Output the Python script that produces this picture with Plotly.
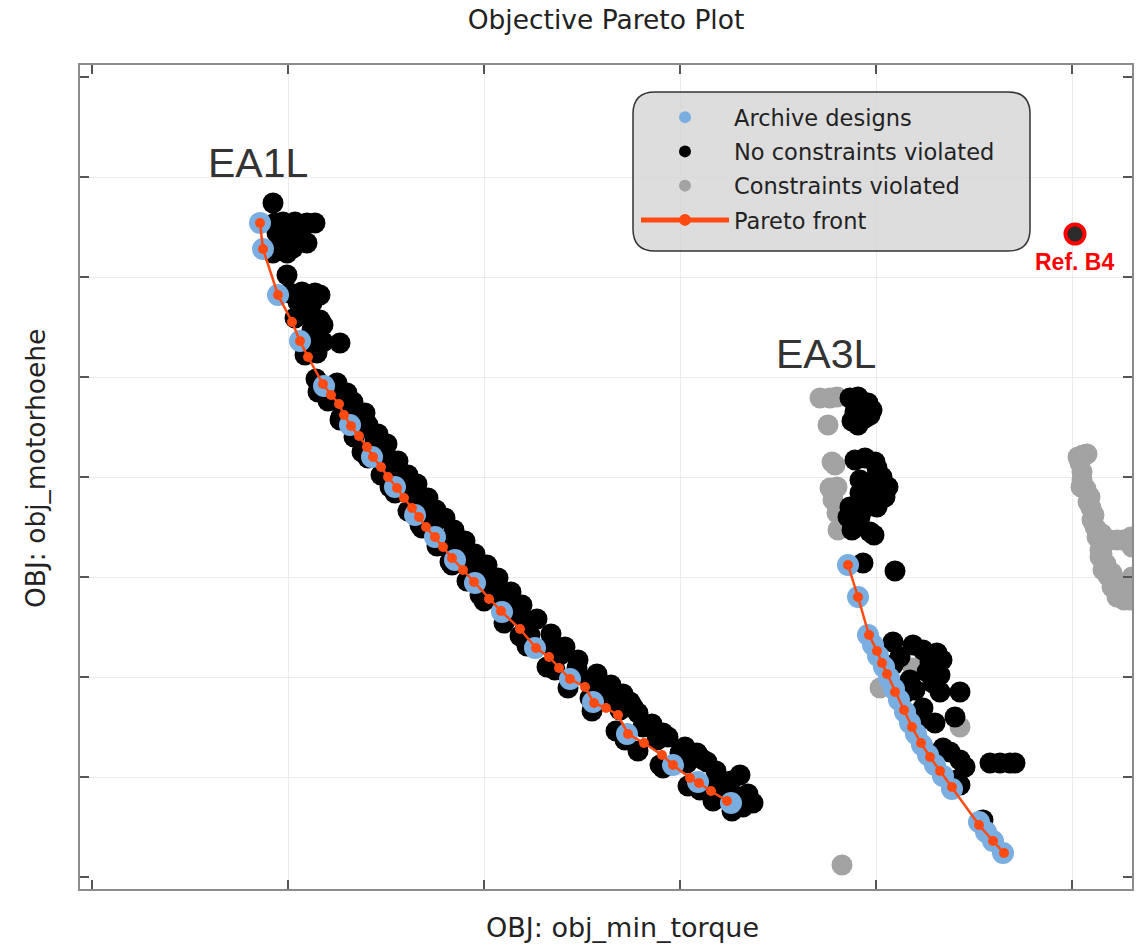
import plotly.graph_objects as go

# ---------------- data (objective space, arbitrary units) ----------------
# EA1L family: Pareto front
ea1l_front_x = [16.8, 17.1, 18.6, 20.0, 20.8, 21.6, 23.1, 23.9, 24.7, 25.2, 25.9, 26.7, 27.5, 28.1,
                28.9, 29.6, 30.5, 31.2, 32.0, 32.7, 33.4, 34.3, 35.1, 36.0, 37.1, 38.2, 39.7, 40.9,
                42.8, 44.4, 45.7, 46.7, 47.8, 49.3, 50.2, 51.4, 52.6, 53.6, 55.2, 57.0, 58.1, 59.8,
                60.7, 61.9, 63.5]
ea1l_front_y = [65.4, 62.8, 58.2, 55.5, 53.6, 52.0, 49.3, 48.2, 47.3, 46.2, 45.1, 44.1, 43.0, 42.0,
                41.0, 40.0, 38.9, 37.9, 36.9, 36.0, 35.0, 34.0, 33.0, 31.9, 30.7, 29.5, 27.8, 26.6,
                24.8, 22.9, 22.0, 20.9, 19.8, 19.0, 17.4, 16.9, 16.2, 14.3, 13.4, 12.2, 11.2, 9.9,
                9.4, 8.6, 7.6]

# EA3L family: Pareto front
ea3l_front_x = [75.6, 76.6, 77.7, 78.5, 79.0, 79.5, 80.3, 81.2, 82.0, 82.9, 83.8, 84.8, 86.0,
                88.7, 90.1, 91.2]
ea3l_front_y = [31.2, 28.0, 24.2, 22.6, 21.4, 20.3, 18.5, 16.7, 15.0, 13.4, 12.0, 10.6, 9.0,
                5.2, 3.6, 2.4]

# Archive designs
archive_x = [16.8, 17.1, 18.6, 20.8, 23.2, 25.8, 28.0, 30.3, 32.3, 34.3, 36.3, 38.3, 41.0, 44.3,
             47.8, 50.1, 53.5, 58.1, 60.6, 63.9,
             75.6, 76.6, 77.6, 78.1, 78.6, 79.2, 79.7, 80.2, 80.7, 81.3, 81.8, 82.4, 83.0, 83.6,
             84.3, 85.1, 86.0, 88.7, 89.4, 90.1, 91.1]
archive_y = [65.4, 62.8, 58.2, 53.6, 49.1, 45.2, 42.0, 39.0, 36.2, 34.0, 31.7, 29.4, 26.5, 22.9,
             19.8, 17.5, 14.3, 11.2, 9.5, 7.4,
             31.2, 28.0, 24.2, 23.2, 22.1, 21.0, 19.9, 18.8, 17.7, 16.5, 15.4, 14.3, 13.2, 12.2,
             11.2, 10.1, 8.8, 5.5, 4.5, 3.6, 2.4]

# Feasible designs (no constraints violated)
feasible_x = [
    # EA1L, upper part
    18.1, 18.3, 19.1, 20.3, 21.5, 22.3, 18.5, 19.8, 21.1, 18.8, 20.1, 21.5, 18.1, 19.5, 19.5,
    19.8, 21.0, 22.3, 22.8, 20.6, 22.0, 20.3, 21.6, 22.8, 23.1, 22.0, 21.1, 23.1, 24.8, 21.3, 22.5,
    # EA1L, along the front
    23.6, 25.5, 24.1, 25.3, 27.0, 27.6, 26.4, 28.3, 28.8, 29.6, 30.0, 30.8, 31.3, 32.1, 33.0, 33.4,
    34.1, 34.8, 35.6, 36.5, 37.1, 37.6, 38.8, 39.4, 40.8, 41.5, 42.3, 43.3, 43.8, 45.8, 46.8, 48.5,
    49.8, 50.8, 52.1, 53.8, 54.1, 52.8, 55.1, 57.1, 56.5, 58.8, 60.5, 61.5, 59.5, 64.8, 62.5, 63.0,
    64.5, 66.1, 65.1,
    22.6, 24.8, 27.0, 29.8, 32.8, 35.8, 38.8, 42.8, 46.3, 49.8, 53.3, 56.8, 60.8,
    24.5, 26.1, 27.3, 28.6, 29.5, 30.6, 31.6, 32.5, 33.6, 34.4, 35.3, 36.2, 37.3, 38.3, 39.5,
    40.6, 41.9, 43.0, 44.5, 45.9, 47.3, 48.6, 50.5, 51.9, 53.1, 54.6, 56.0, 57.6, 59.3, 61.0,
    62.4, 63.9, 65.6,
    22.4, 23.6, 24.9, 26.2, 27.6, 28.9, 30.3, 31.6, 33.0, 34.5, 36.0, 37.5, 39.2, 41.2, 43.5,
    45.5, 47.6, 50.0, 52.4, 54.6, 57.1, 59.6, 62.1, 64.0,
    # EA3L, upper clusters
    75.8, 76.6, 77.6, 78.0, 76.3, 76.6, 77.3, 76.9, 77.8, 76.0,
    76.3, 77.3, 78.3, 78.5, 76.8, 78.0, 79.1, 76.8, 77.8, 79.3, 75.8, 77.3, 78.5, 75.6, 76.8,
    76.0, 77.8, 77.1, 80.3, 79.0, 79.6, 78.0, 76.5, 78.2,
    # EA3L, along the front
    80.1, 82.1, 83.1, 84.5, 85.0, 83.8, 80.8, 80.1, 83.5, 84.8, 81.8, 84.1, 84.8, 86.8, 82.3,
    81.3, 83.1, 86.3, 84.3, 82.8, 85.1, 85.8, 86.8, 87.3, 86.5, 86.8, 89.8, 90.8, 91.8, 92.3,
    89.1,
]
feasible_y = [
    # EA1L, upper part
    67.4, 65.4, 65.5, 65.5, 65.4, 65.4, 64.4, 64.2, 63.7, 63.0, 62.9, 63.4, 62.4, 62.4, 60.2,
    58.4, 58.5, 58.4, 58.2, 57.5, 57.4, 55.9, 56.2, 55.7, 55.2, 54.7, 53.4, 53.5, 53.4, 52.2, 52.4,
    # EA1L, along the front
    49.0, 48.4, 47.7, 46.9, 46.0, 45.2, 44.5, 43.7, 42.7, 41.9, 40.7, 39.7, 38.7, 37.7, 36.5, 35.7,
    35.0, 33.7, 32.9, 32.9, 32.0, 31.2, 30.0, 28.9, 28.0, 27.4, 26.2, 25.4, 24.2, 23.2, 22.2, 20.9,
    19.7, 18.7, 17.7, 17.5, 17.0, 16.7, 15.0, 14.4, 13.7, 12.4, 12.4, 11.5, 11.4, 10.2, 9.7, 8.7,
    8.0, 7.4, 7.0,
    48.5, 45.7, 42.5, 39.0, 35.2, 31.5, 28.2, 24.1, 20.7, 17.9, 13.7, 11.2, 8.7,
    49.4, 47.5, 46.4, 44.3, 43.3, 41.6, 40.2, 39.3, 37.9, 36.7, 35.9, 34.7, 33.6, 32.3, 31.2,
    29.9, 28.5, 27.2, 25.8, 24.3, 23.0, 21.7, 20.3, 19.2, 18.3, 16.4, 15.3, 14.0, 13.0, 11.8,
    10.6, 9.6, 8.3,
    49.8, 47.6, 46.0, 44.0, 41.9, 40.2, 38.4, 36.6, 34.9, 33.1, 31.2, 29.6, 27.6, 25.4, 23.1,
    21.0, 18.9, 16.6, 14.6, 12.6, 10.9, 9.1, 7.6, 6.6,
    # EA3L, upper clusters
    47.9, 48.0, 47.4, 46.7, 46.5, 45.2, 45.9, 47.0, 46.2, 45.6,
    41.7, 41.9, 41.5, 40.9, 39.7, 39.5, 38.9, 38.4, 38.2, 38.0, 37.0, 36.9, 37.0, 36.0, 36.0,
    34.7, 34.5, 31.4, 30.6, 40.0, 39.0, 37.5, 35.2, 34.2,
    # EA3L, along the front
    23.5, 23.2, 22.7, 22.4, 21.7, 21.5, 22.0, 21.2, 20.5, 20.2, 19.7, 19.4, 18.5, 18.5, 18.7,
    18.4, 16.9, 16.0, 15.4, 15.7, 12.9, 12.5, 11.7, 11.0, 9.7, 9.2, 11.4, 11.4, 11.4, 11.4,
    5.7,
]

# Infeasible designs (constraints violated)
infeasible_x = [72.8, 73.8, 74.5, 73.6, 74.0, 74.3, 73.8, 74.5, 74.1, 74.5, 74.6, 75.3,
                82.1, 78.8, 86.8, 75.0,
                99.1, 98.8, 99.0, 99.0, 99.4, 99.8, 99.9, 100.0, 100.5, 100.5, 101.3, 101.8,
                102.5, 103.1, 103.8, 100.8, 100.8, 101.1, 101.6, 102.1, 102.3, 102.5, 103.2,
                103.8, 103.8,
                98.6, 99.5, 98.9, 99.6, 100.2, 100.3, 101.0, 101.0, 101.4, 102.0, 102.0, 102.8,
                103.5, 104.0, 104.0, 103.9]
infeasible_y = [47.9, 47.9, 48.0, 45.2, 41.5, 41.2, 38.9, 39.0, 37.7, 36.4, 34.7, 35.0,
                20.9, 18.9, 15.0, 1.2,
                42.2, 41.4, 40.5, 39.7, 38.8, 38.0, 36.9, 35.7, 34.7, 34.0, 33.7, 33.7,
                33.7, 33.7, 33.4, 32.7, 32.0, 30.7, 30.1, 29.7, 28.7, 28.0, 27.7,
                27.7, 29.0,
                42.0, 42.3, 39.0, 37.5, 36.2, 35.0, 34.3, 32.3, 31.3, 30.4, 29.0, 28.3,
                28.2, 30.0, 33.0, 34.0]

# Reference design
ref_x = [98.3]
ref_y = [64.3]

# Axis grid positions (no numeric labels shown)
x_ticks = [19.6, 39.2, 58.8, 78.4, 98.0]
x_edge_ticks = [0.0]
y_ticks = [10, 20, 30, 40, 50, 60, 70]
y_edge_ticks = [0, 80]
x_range = [-1.2, 104.0]
y_range = [-1.2, 81.2]

# ---------------- styling ----------------
BLUE = "#7aaee0"
BLACK = "#000000"
GRAY = "#a3a3a3"
ORANGE = "#ff4a12"
TXT = "DejaVu Sans"
TXT_COLOR = "#222222"

W, H = 1148, 950
ML, MR, MT, MB = 80, 16, 65, 61

fig = go.Figure()

fig.add_trace(go.Scatter(
    x=infeasible_x, y=infeasible_y, mode="markers", name="Constraints violated",
    legendgroup="infeasible", legendrank=3,
    marker=dict(size=21, color=GRAY, line=dict(width=0))))
fig.add_trace(go.Scatter(
    x=feasible_x, y=feasible_y, mode="markers", name="No constraints violated",
    legendgroup="feasible", legendrank=2,
    marker=dict(size=21, color=BLACK, line=dict(width=0))))
fig.add_trace(go.Scatter(
    x=archive_x, y=archive_y, mode="markers", name="Archive designs",
    legendgroup="archive", legendrank=1,
    marker=dict(size=22, color=BLUE, line=dict(width=0))))
fig.add_trace(go.Scatter(
    x=ea1l_front_x, y=ea1l_front_y, mode="lines+markers", name="Pareto front",
    legendgroup="front", legendrank=4,
    line=dict(color=ORANGE, width=2.5), marker=dict(size=10, color=ORANGE)))
fig.add_trace(go.Scatter(
    x=ea3l_front_x, y=ea3l_front_y, mode="lines+markers", name="Pareto front",
    legendgroup="front", showlegend=False,
    line=dict(color=ORANGE, width=2.5), marker=dict(size=10, color=ORANGE)))
fig.add_trace(go.Scatter(
    x=ref_x, y=ref_y, mode="markers", name="Ref. B4", showlegend=False,
    marker=dict(size=19, color="#2b2b2b", line=dict(width=4, color="#ff0000"))))


def px_to_paper(px, py):
    """Convert a position in page pixels to paper coordinates."""
    pw = W - ML - MR
    ph = H - MT - MB
    return (px - ML) / pw, (H - MB - py) / ph


# rounded, semi-transparent legend panel
lx0, ly1 = px_to_paper(633, 92)
lx1, ly0 = px_to_paper(1030, 251)
rx = 22 / (W - ML - MR)
ry = 22 / (H - MT - MB)
panel = (f"M {lx0+rx},{ly1} L {lx1-rx},{ly1} Q {lx1},{ly1} {lx1},{ly1-ry} "
         f"L {lx1},{ly0+ry} Q {lx1},{ly0} {lx1-rx},{ly0} "
         f"L {lx0+rx},{ly0} Q {lx0},{ly0} {lx0},{ly0+ry} "
         f"L {lx0},{ly1-ry} Q {lx0},{ly1} {lx0+rx},{ly1} Z")
fig.add_shape(type="path", path=panel, xref="paper", yref="paper", layer="above",
              fillcolor="rgba(212,212,212,0.8)", line=dict(color="#333333", width=1.5))

# family labels
fig.add_annotation(x=16.6, y=71.4, xref="x", yref="y", text="EA1L", showarrow=False,
                   font=dict(family="Liberation Sans", size=41, color="#333333"))
fig.add_annotation(x=73.4, y=52.3, xref="x", yref="y", text="EA3L", showarrow=False,
                   font=dict(family="Liberation Sans", size=41, color="#333333"))
fig.add_annotation(x=98.2, y=61.5, xref="x", yref="y", text="<b>Ref. B4</b>", showarrow=False,
                   font=dict(family="Liberation Sans", size=23, color="#ff0000"))

# axis titles
xt_x, xt_y = px_to_paper(622, 927)
fig.add_annotation(x=xt_x, y=xt_y, xref="paper", yref="paper", text="OBJ: obj_min_torque",
                   showarrow=False, xanchor="center", yanchor="middle",
                   font=dict(family=TXT, size=27, color=TXT_COLOR))
yt_x, yt_y = px_to_paper(35, 469)
fig.add_annotation(x=yt_x, y=yt_y, xref="paper", yref="paper", text="OBJ: obj_motorhoehe",
                   showarrow=False, xanchor="center", yanchor="middle", textangle=-90,
                   font=dict(family=TXT, size=26.5, color=TXT_COLOR))

legx, legy = px_to_paper(636, 96)

axis_common = dict(
    showline=True, linecolor="#8c8c8c", linewidth=2, mirror="ticks",
    ticks="inside", ticklen=9, tickwidth=2, tickcolor="#555555",
    showticklabels=False, showgrid=True, gridcolor="#ebebeb", gridwidth=1,
    zeroline=False, tickmode="array",
)
minor_common = dict(ticks="inside", ticklen=9, tickwidth=2, tickcolor="#555555", showgrid=False)

fig.update_layout(
    width=W, height=H,
    margin=dict(l=ML, r=MR, t=MT, b=MB),
    paper_bgcolor="white", plot_bgcolor="white",
    font=dict(family=TXT, color=TXT_COLOR),
    title=dict(text="Objective Pareto Plot", x=0.5 * (ML + W - MR) / W, xanchor="center",
               y=1 - 20 / H, yanchor="middle", yref="container",
               font=dict(family=TXT, size=26.5, color=TXT_COLOR)),
    xaxis=dict(axis_common, range=x_range, tickvals=x_ticks,
               minor=dict(minor_common, tickvals=x_edge_ticks)),
    yaxis=dict(axis_common, range=y_range, tickvals=y_ticks,
               minor=dict(minor_common, tickvals=y_edge_ticks)),
    legend=dict(x=legx, y=legy, xanchor="left", yanchor="top",
                bgcolor="rgba(0,0,0,0)", borderwidth=0,
                font=dict(family=TXT, size=22.5, color=TXT_COLOR),
                itemsizing="constant", itemwidth=88, tracegroupgap=2,
                traceorder="grouped"),
    showlegend=True,
)

fig.write_html("out.html")
